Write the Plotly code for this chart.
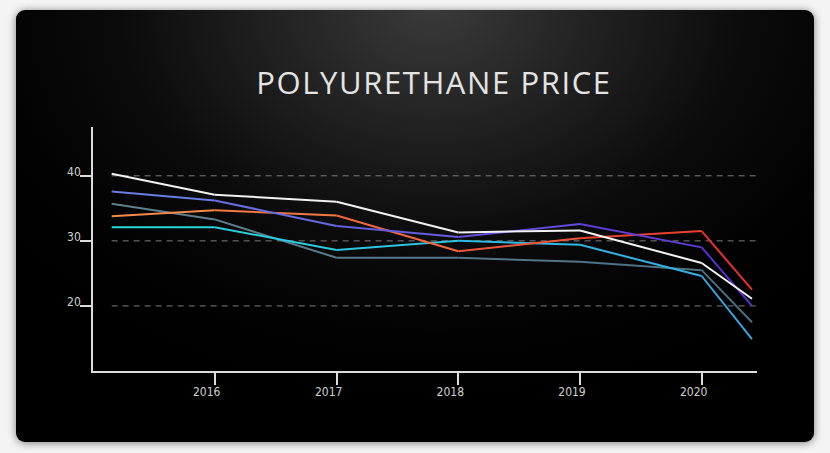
import base64
import plotly.graph_objects as go

# ---------------- data ----------------
dates = ["2015-02-26", "2016-01-01", "2017-01-01", "2018-01-01",
         "2019-01-01", "2020-01-01", "2020-05-31"]
tick_dates = ["2016-01-01", "2017-01-01", "2018-01-01", "2019-01-01", "2020-01-01"]
tick_labels = ["2016", "2017", "2018", "2019", "2020"]
y_ticks = [20, 30, 40]
y_tick_labels = ["20", "30", "40"]

series_slate = [35.7, 33.3, 27.4, 27.4, 26.8, 25.5, 17.5]
series_cyan = [32.1, 32.1, 28.6, 30.0, 29.4, 24.6, 14.9]
series_orange = [33.8, 34.7, 33.9, 28.4, 30.4, 31.5, 22.5]
series_purple = [37.6, 36.2, 32.3, 30.6, 32.6, 29.0, 20.0]
series_white = [40.3, 37.1, 36.0, 31.3, 31.6, 26.6, 21.1]

# ---------------- styling ----------------
W, H = 830, 453
ML, MR, MT, MB = 93, 73, 127, 82
PW, PH = W - ML - MR, H - MT - MB
X_RANGE = ["2015-01-01", "2020-06-15"]
Y_RANGE = [10, 47.5]

styles = [
    (series_slate, "#5f7f8e", "#4b6e80"),
    (series_cyan, "#2ad6da", "#38a6e2"),
    (series_orange, "#f28c4c", "#e8302c"),
    (series_purple, "#6c7ce2", "#5a2ed0"),
    (series_white, "#f2f2f2", "#f2f2f2"),
]


def hex2rgb(h):
    h = h.lstrip("#")
    return tuple(int(h[i:i + 2], 16) for i in (0, 2, 4))


def mix(c0, c1, t):
    a, b = hex2rgb(c0), hex2rgb(c1)
    return "rgb(%d,%d,%d)" % tuple(round(a[i] + (b[i] - a[i]) * t) for i in range(3))


svg = f"""<svg xmlns="http://www.w3.org/2000/svg" width="{W}" height="{H}" viewBox="0 0 {W} {H}">
<defs>
<radialGradient id="g" gradientUnits="userSpaceOnUse" cx="433" cy="8" r="520"
 gradientTransform="translate(433 8) scale(1 0.75) translate(-433 -8)">
<stop offset="0" stop-color="#3a3a3a"/>
<stop offset="0.3" stop-color="#222222"/>
<stop offset="0.6" stop-color="#0b0b0b"/>
<stop offset="0.85" stop-color="#020202"/>
<stop offset="1" stop-color="#000000"/>
</radialGradient>
<filter id="s" x="-10%" y="-10%" width="120%" height="120%"><feGaussianBlur stdDeviation="4"/></filter>
</defs>
<rect width="{W}" height="{H}" fill="#f4f4f4"/>
<rect x="16" y="11" width="798" height="432" rx="9" fill="#000" opacity="0.5" filter="url(#s)"/>
<rect x="16" y="10" width="798" height="432" rx="9" fill="url(#g)"/>
</svg>"""
bg_uri = "data:image/svg+xml;base64," + base64.b64encode(svg.encode()).decode()

fig = go.Figure()

for vals, c0, c1 in styles:
    n = len(vals)
    for i in range(n - 1):
        t = i / (n - 2)
        fig.add_trace(go.Scatter(
            x=dates[i:i + 2], y=vals[i:i + 2], mode="lines",
            line=dict(color=mix(c0, c1, t), width=2),
            hoverinfo="skip", showlegend=False,
        ))

shapes = []
for v in y_ticks:
    shapes.append(dict(
        type="line", xref="x", yref="y", x0=dates[0], x1=X_RANGE[1], y0=v, y1=v,
        line=dict(color="#7c7c7c", width=1, dash="6px,5px"), layer="below",
    ))

axis_font = dict(family="Liberation Sans Narrow, DejaVu Sans Condensed, sans-serif",
                 size=12, color="#d0d0d0")

fig.update_layout(
    width=W, height=H,
    margin=dict(l=ML, r=MR, t=MT, b=MB, pad=0),
    paper_bgcolor="#f4f4f4",
    plot_bgcolor="rgba(0,0,0,0)",
    showlegend=False,
    title=dict(
        text='<span style="letter-spacing:1.6px">POLYURETHANE PRICE</span>',
        font=dict(family="Open Sans, Noto Sans, sans-serif", size=31, color="#e4e4e4"),
        x=434 / W, xref="container", xanchor="center",
        y=1 - 83 / H, yref="container", yanchor="middle",
    ),
    images=[dict(
        source=bg_uri, xref="paper", yref="paper",
        x=-ML / PW, y=1 + MT / PH, sizex=W / PW, sizey=H / PH,
        xanchor="left", yanchor="top", sizing="stretch", layer="below",
    )],
    shapes=shapes,
    xaxis=dict(
        type="date", range=X_RANGE, showgrid=False, zeroline=False,
        showline=True, linecolor="#dcdcdc", linewidth=1.5,
        ticks="outside", ticklen=12, tickwidth=1.5, tickcolor="#dcdcdc",
        tickvals=tick_dates, ticktext=tick_labels, tickfont=axis_font,
        ticklabelshift=-8, ticklabelstandoff=-3,
    ),
    yaxis=dict(
        range=Y_RANGE, showgrid=False, zeroline=False,
        showline=True, linecolor="#dcdcdc", linewidth=1.5,
        ticks="outside", ticklen=11, tickwidth=1.5, tickcolor="#dcdcdc",
        tickvals=y_ticks, ticktext=y_tick_labels, tickfont=axis_font,
        ticklabelshift=-4, ticklabelstandoff=-3,
    ),
)

fig.write_html("out.html", config={"displayModeBar": False},
               post_script="document.body.style.margin='0';")
